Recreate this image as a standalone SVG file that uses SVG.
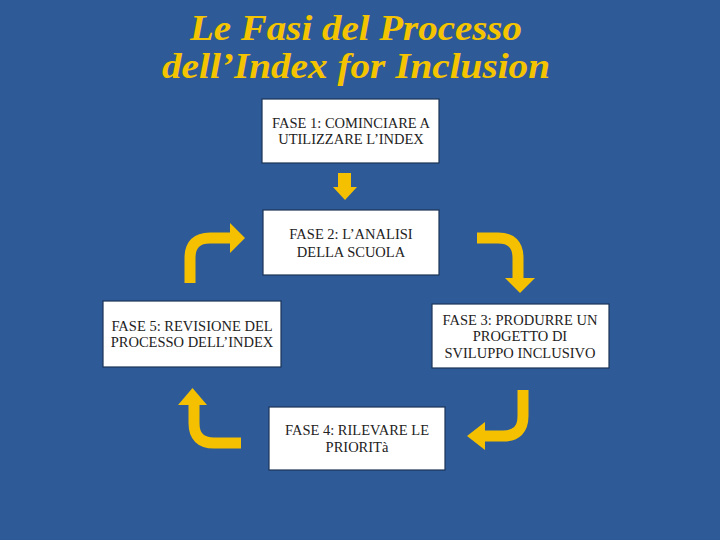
<svg xmlns="http://www.w3.org/2000/svg" width="720" height="540" viewBox="0 0 720 540">
<style>
.title{font-family:"Liberation Serif",serif;font-weight:bold;font-style:italic;font-size:36px;fill:#F5C400;text-anchor:middle}
.box{fill:#FFFFFF;stroke:#1B3358;stroke-width:1.2}
.lbl{font-family:"Liberation Serif",serif;font-size:14.5px;fill:#222;text-anchor:middle}
.shaft{fill:none;stroke:#F5C000;stroke-width:11}
.head{fill:#F5C000}
</style>
<rect width="720" height="540" fill="#2E5B97"/>
<text class="title" x="356" y="40" textLength="332" lengthAdjust="spacingAndGlyphs">Le Fasi del Processo</text>
<text class="title" x="356" y="78" textLength="388" lengthAdjust="spacingAndGlyphs">dell’Index for Inclusion</text>
<g id="connectors">
<path class="head" d="M338,173 H351 V187 H357 L345,200 L333,187 H338 Z"/>
<path class="shaft" d="M190,283 V258 Q190,238 210,238 H231"/>
<polygon class="head" points="230,223 245,238 230,253"/>
<path class="shaft" d="M477,238 H498 Q518,238 518,258 V279"/>
<polygon class="head" points="505,278 535,278 520,293"/>
<path class="shaft" d="M523,390 V416 Q523,436 503,436 H484"/>
<polygon class="head" points="485,422 485,450 467,436"/>
<path class="shaft" d="M194,404 V423 Q194,443 214,443 H241"/>
<polygon class="head" points="178,405 207,405 192.5,388"/>
</g>
<g id="fase1"><rect class="box" x="262" y="99" width="177" height="64"/>
<text class="lbl" x="351" y="128">FASE 1: COMINCIARE  A</text>
<text class="lbl" x="351" y="144">UTILIZZARE L’INDEX</text></g>
<g id="fase2"><rect class="box" x="263" y="210" width="176" height="65"/>
<text class="lbl" x="351" y="239">FASE 2: L’ANALISI</text>
<text class="lbl" x="351" y="257">DELLA SCUOLA</text></g>
<g id="fase5"><rect class="box" x="103" y="301" width="178" height="66"/>
<text class="lbl" x="192" y="331">FASE 5: REVISIONE DEL</text>
<text class="lbl" x="192" y="347">PROCESSO DELL’INDEX</text></g>
<g id="fase3"><rect class="box" x="432" y="304" width="177" height="64"/>
<text class="lbl" x="520" y="325">FASE 3: PRODURRE UN</text>
<text class="lbl" x="520" y="341">PROGETTO DI</text>
<text class="lbl" x="520" y="358">SVILUPPO INCLUSIVO</text></g>
<g id="fase4"><rect class="box" x="269" y="407" width="176" height="63"/>
<text class="lbl" x="357" y="435">FASE 4: RILEVARE LE</text>
<text class="lbl" x="357" y="452">PRIORITà</text></g>
</svg>
